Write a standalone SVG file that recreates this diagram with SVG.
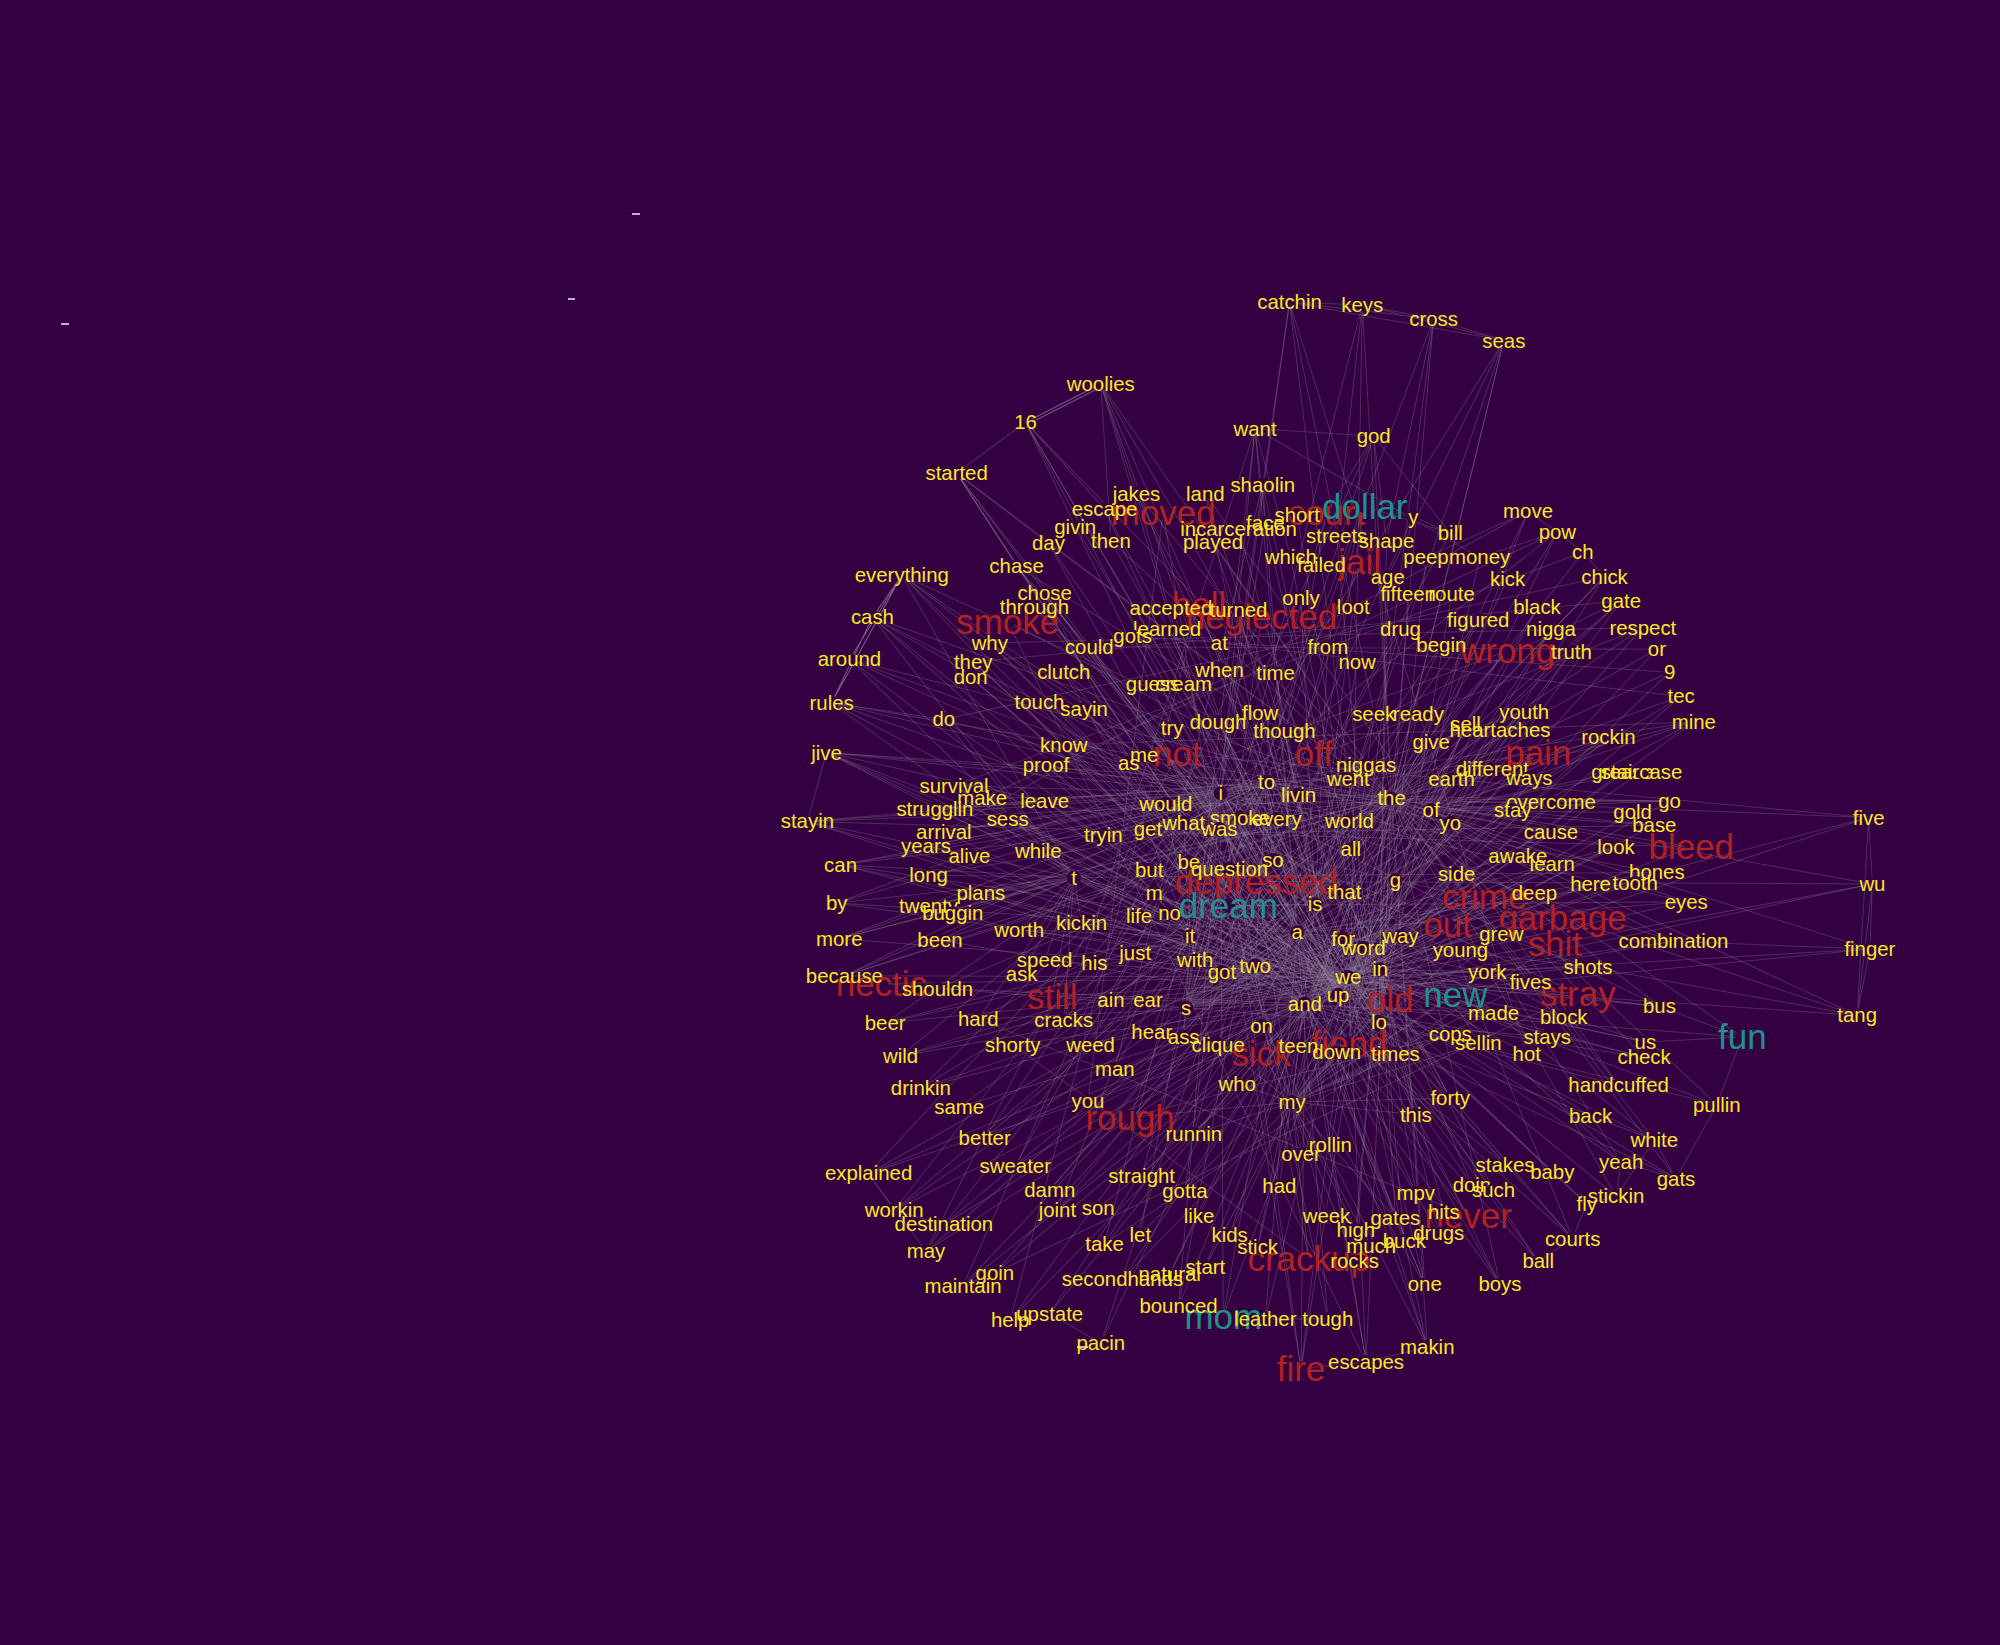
<svg xmlns="http://www.w3.org/2000/svg" width="2000" height="1645" viewBox="0 0 2000 1645">
<style>
.bg{fill:#340042}
#edges path{fill:none;stroke:#a09aa8;stroke-opacity:.27;stroke-width:.8;stroke-linejoin:round}
#edges path.hi{stroke:#c8c2cc;stroke-opacity:.45}
circle{fill:#340042}
text{font-family:"Liberation Sans",Arial,sans-serif;font-size:16px;fill:#fde725;text-anchor:middle;dominant-baseline:central}
text.r{fill:#b22222;font-size:27.4px}
text.q{fill:#21918c;font-size:27.4px}
.mk line{stroke:#ffffff;stroke-width:1.4}
</style>
<rect class="bg" x="0" y="0" width="2000" height="1645"/>
<g class="mk">
<line x1="61" y1="324" x2="69" y2="324"/>
<line x1="568" y1="299" x2="575" y2="299"/>
<line x1="632" y1="214" x2="640" y2="214"/>
<line x1="1077" y1="1347" x2="1088" y2="1347"/>
</g>
<g transform="scale(1.2755)">
<g id="edges">
<path d="M957 622L1011 237 957 622 984 336 957 622 863 301 957 622 891 387 957 622 707 451 957 622 684 484 957 622 666 517 957 622 652 551 957 622 740 564 957 622 648 590 957 622 633 644 957 622 797 444 957 622 811 476 957 622 776 504 957 622 834 527 957 622 834 584 957 622 820 600 957 622 748 616 957 622 770 626 957 622 733 634 957 622 740 652 957 622 726 663 957 622 659 678 957 622 656 708 957 622 658 736 957 622 662 765 957 622 694 802 957 622 706 828 957 622 722 853 957 622 681 920 957 622 701 949 957 622 772 892 957 622 796 914 957 622 829 949 957 622 866 975 957 622 894 968 957 622 924 1024 957 622 959 1032 957 622 1020 1073 957 622 1026 987 957 622 1151 953 957 622 1117 1007 957 622 1297 894 957 622 1271 911 957 622 1301 789 957 622 1312 738 957 622 1322 707 957 622 1299 684 957 622 1309 628 957 622 1328 566 957 622 1288 492 957 622 1271 471 957 622 1221 417 957 622 1179 267 957 622 1091 626 957 622 1017 731 957 622 1023 787 957 622 1049 780 957 622 1057 766 957 622 1041 1034"/>
<path d="M1091 626L1011 237 1091 626 1068 239 1091 626 1124 250 1091 626 1179 267 1091 626 1077 342 1091 626 1198 401 1091 626 1221 417 1091 626 1241 433 1091 626 1258 452 1091 626 1271 471 1091 626 1288 492 1091 626 1299 509 1091 626 1309 527 1091 626 1318 546 1091 626 1328 566 1091 626 1261 578 1091 626 1309 628 1091 626 1297 647 1091 626 1326 664 1091 626 1465 641 1091 626 1468 693 1091 626 1466 744 1091 626 1456 796 1091 626 1322 707 1091 626 1312 738 1091 626 1301 789 1091 626 1366 813 1091 626 1289 829 1091 626 1269 851 1091 626 1346 866 1091 626 1297 894 1091 626 1314 924 1091 626 1271 911 1091 626 1267 938 1091 626 1233 971 1091 626 1176 1007 1091 626 1119 1056 1091 626 1071 1068 1091 626 1020 1073 1091 626 1062 989 1091 626 1075 977 1091 626 1117 1007 1091 626 1063 964 1091 626 1043 898 1091 626 945 993 1091 626 917 999 1091 626 866 975 1091 626 829 949 1091 626 823 933 1091 626 772 892 1091 626 752 868 1091 626 722 853 1091 626 735 775 1091 626 662 765 1091 626 767 799 1091 626 834 800 1091 626 658 736 1091 626 737 737 1091 626 769 700 1091 626 728 710 1091 626 728 686 1091 626 659 678 1091 626 633 644 1091 626 648 590 1091 626 652 551 1091 626 684 484 1091 626 666 517 1091 626 707 451 1091 626 797 444 1091 626 822 426 1091 626 750 371 1091 626 804 331 1091 626 863 301 1091 626 891 387 1091 626 871 424 1091 626 951 425"/>
<path d="M1017 731L863 301 1017 731 804 331 1017 731 750 371 1017 731 984 336 1017 731 990 380 1017 731 945 387 1017 731 866 399 1017 731 819 465 1017 731 888 499 1017 731 854 507 1017 731 850 556 1017 731 815 550 1017 731 1318 546 1017 731 1328 566 1017 731 1261 578 1017 731 1195 558 1017 731 1267 664 1017 731 1299 684 1017 731 1282 692 1017 731 1322 707 1017 731 1200 770 1017 731 1245 758 1017 731 1213 813 1017 731 1290 817 1017 731 1197 826 1017 731 1247 875 1017 731 1217 919 1017 731 1180 913 1017 731 1154 929 1017 731 1171 933 1017 731 1110 935 1017 731 1094 955 1017 731 1176 1007 1017 731 1206 989 1017 731 1233 971 1017 731 1119 1056 1017 731 1071 1068 1017 731 1041 1034 1017 731 992 1034 1017 731 792 1035 1017 731 863 1053 1017 731 823 1030 1017 731 755 1008 1017 731 780 998 1017 731 726 981 1017 731 740 960 1017 731 701 949 1017 731 681 920 1017 731 706 828 1017 731 694 802 1017 731 656 708 1017 731 659 678 1017 731 648 590"/>
<path d="M1023 787L750 371 1023 787 822 426 1023 787 843 413 1023 787 797 444 1023 787 707 451 1023 787 684 484 1023 787 666 517 1023 787 748 616 1023 787 790 642 1023 787 740 652 1023 787 760 671 1023 787 814 667 1023 787 728 686 1023 787 769 700 1023 787 747 716 1023 787 737 737 1023 787 735 775 1023 787 767 799 1023 787 794 819 1023 787 855 819 1023 787 874 838 1023 787 853 863 1023 787 752 868 1023 787 772 892 1023 787 796 914 1023 787 895 922 1023 787 936 889 1023 787 929 934 1023 787 1003 930 1023 787 940 953 1023 787 964 968 1023 787 986 978 1023 787 917 999 1023 787 880 1003 1023 787 924 1024 1023 787 1020 1073 1023 787 1071 1068 1023 787 1119 1056 1023 787 1117 1007 1023 787 1128 967 1023 787 1101 973 1023 787 1151 953 1023 787 1180 913 1023 787 1297 894 1023 787 1314 924 1023 787 1346 866 1023 787 1269 851 1023 787 1289 829 1023 787 1366 813 1023 787 1312 738 1023 787 1466 744 1023 787 1468 693 1023 787 1465 641 1023 787 1309 628 1023 787 1297 647 1023 787 1280 637 1023 787 1287 605 1023 787 1272 605 1023 787 1261 578 1023 787 1328 566 1023 787 1216 493 1023 787 1232 511 1023 787 1288 492 1023 787 1182 454 1023 787 1205 476 1023 787 1159 486"/>
<path d="M1057 766L1179 267 1057 766 1124 250 1057 766 1198 401 1057 766 1221 417 1057 766 1258 452 1057 766 1271 471 1057 766 1205 476 1057 766 1216 493 1057 766 1232 511 1057 766 1299 509 1057 766 1309 527 1057 766 1318 546 1057 766 1216 652 1057 766 1190 671 1057 766 1217 677 1057 766 1247 693 1057 766 1282 692 1057 766 1299 684 1057 766 1322 707 1057 766 1326 664 1057 766 1267 664 1057 766 1245 758 1057 766 1237 779 1057 766 1226 797 1057 766 1301 789 1057 766 1290 817 1057 766 1289 829 1057 766 1244 944 1057 766 1267 938 1057 766 1271 911 1057 766 1217 919 1057 766 1233 971 1057 766 1206 989 1057 766 1176 1007 1057 766 1117 1007 1057 766 1119 1056 1057 766 1071 1068 1057 766 1020 1073 1057 766 959 1032 1057 766 992 1034 1057 766 792 1035 1057 766 755 1008 1057 766 780 998 1057 766 726 981 1057 766 701 949 1057 766 740 960 1057 766 681 920 1057 766 722 853 1057 766 706 828 1057 766 694 802 1057 766 691 771 1057 766 662 765 1057 766 658 736 1057 766 656 708 1057 766 659 678 1057 766 633 644 1057 766 648 590 1057 766 652 551"/>
<path d="M1049 780L707 451 1049 780 684 484 1049 780 648 590 1049 780 633 644 1049 780 659 678 1049 780 733 634 1049 780 748 616 1049 780 770 626 1049 780 819 628 1049 780 834 584 1049 780 820 600 1049 780 815 550 1049 780 850 556 1049 780 834 527 1049 780 740 564 1049 780 761 531 1049 780 763 519 1049 780 776 504 1049 780 854 507 1049 780 888 499 1049 780 915 493 1049 780 918 477 1049 780 940 474 1049 780 971 478 1049 780 956 504 1049 780 956 525 1049 780 1000 528 1049 780 988 559 1049 780 919 571 1049 780 955 566 1049 780 1007 573 1049 780 1077 560 1049 780 1112 560 1049 780 1122 582 1049 780 1149 568 1049 780 1176 572 1049 780 1195 558 1049 780 1170 603 1049 780 1138 611 1049 780 1199 610 1049 780 1216 629 1049 780 1186 635"/>
<path d="M842 688L707 451 842 688 684 484 842 688 666 517 842 688 652 551 842 688 740 564 842 688 648 590 842 688 633 644 842 688 659 678 842 688 656 708 842 688 658 736 842 688 662 765 842 688 728 686 842 688 726 663 842 688 728 710 842 688 747 716 842 688 769 700 842 688 737 737 842 688 799 729 842 688 848 724 842 688 819 753 842 688 801 764 842 688 825 781 842 688 767 799 842 688 834 800 842 688 1091 626 842 688 1017 731 842 688 1023 787 842 688 1057 766 842 688 1049 780 842 688 1081 801 842 688 993 613"/>
<path d="M1081 801L863 301 1081 801 804 331 1081 801 750 371 1081 801 797 444 1081 801 819 465 1081 801 811 476 1081 801 776 504 1081 801 763 519 1081 801 761 531 1081 801 822 426 1081 801 843 413 1081 801 871 424 1081 801 866 399 1081 801 891 387 1081 801 945 387 1081 801 990 380 1081 801 992 410 1081 801 1017 404 1081 801 971 415 1081 801 951 425 1081 801 1048 420 1081 801 1087 424 1081 801 1012 437 1081 801 1036 443 1081 801 1088 452 1081 801 1118 437 1081 801 1160 437 1081 801 1138 466 1081 801 1104 466"/>
<path d="M930 790L1011 237 930 790 1068 239 930 790 984 336 930 790 1077 342 930 790 990 380 930 790 992 410 930 790 1070 397 930 790 1108 405 930 790 1137 418 930 790 1098 493 930 790 1130 506 930 790 1159 486 930 790 1182 510 930 790 1232 511 930 790 1271 471 930 790 1258 452 930 790 1195 558 930 790 1149 568 930 790 1206 590 930 790 1186 635 930 790 1216 652 930 790 1190 671 930 790 1217 677 930 790 1267 664 930 790 1247 693 930 790 1203 700 930 790 1225 719 930 790 1219 740 930 790 1312 738 930 790 1245 758"/>
<path d="M993 613L633 644 993 613 648 590 993 613 733 634 993 613 740 652 993 613 726 663 993 613 760 671 993 613 814 667 993 613 865 655 993 613 900 650 993 613 914 630 993 613 928 645 993 613 956 650 993 613 972 641 993 613 1001 642 993 613 1018 623 993 613 1057 611 993 613 1071 600 993 613 1058 644 993 613 1122 635 993 613 1137 645 993 613 1091 626 993 613 1059 666 993 613 964 681 993 613 932 676 993 613 998 674 993 613 901 682 993 613 905 700 993 613 917 716 993 613 893 718 993 613 933 734 993 613 937 753 993 613 958 762 993 613 984 757"/>
<path d="M1013 864L963 710 1013 864 985 691 1013 864 1054 699 1013 864 1031 709 1013 864 1094 690 1013 864 1142 685 1013 864 1164 703 1013 864 1135 725 1013 864 1177 732 1013 864 1145 745 1013 864 1069 743 1013 864 1098 734 1013 864 1053 736 1013 864 1082 760 1013 864 1166 762 1013 864 1200 770 1013 864 1171 794 1013 864 1141 780 1013 864 1090 784 1013 864 1137 811 1013 864 1159 818 1013 864 1094 826 1013 864 1048 825 1013 864 1018 820 1013 864 955 819 1013 864 989 826 1013 864 1058 818 1013 864 989 804 1013 864 970 850 1013 864 1110 874 1013 864 1137 861 1013 864 886 876 1013 864 936 889 1013 864 1020 905 1013 864 1043 898 1013 864 1040 953 1013 864 1063 964 1013 864 1094 955 1013 864 1075 977 1013 864 1062 989 1013 864 1026 987 1013 864 986 978 1013 864 964 968 1013 864 945 993"/>
<path d="M933 734L893 718 933 734 917 716 933 734 890 747 933 734 858 755 933 734 937 753 933 734 958 762 933 734 819 753 933 734 848 724 933 734 799 729 933 734 874 838 933 734 855 819 933 734 900 784 933 734 871 784 933 734 903 809 933 734 928 813 933 734 930 790 933 734 905 700 933 734 901 682 933 734 932 676 933 734 964 681 933 734 865 655 933 734 900 650 933 734 928 645 933 734 956 650 933 734 914 630"/>
<path d="M1082 760L1094 690 1082 760 1054 699 1082 760 1142 685 1082 760 1098 734 1082 760 1069 743 1082 760 1053 736 1082 760 1145 745 1082 760 1177 732 1082 760 1166 762 1082 760 1171 794 1082 760 1200 770 1082 760 1094 826 1082 760 1081 801 1082 760 1137 811 1082 760 1137 861 1082 760 1110 874 1082 760 1110 935 1082 760 1132 950 1082 760 1094 955 1082 760 1128 967 1082 760 1101 973 1082 760 1154 929 1082 760 1171 933"/>
<path d="M1031 709L985 691 1031 709 963 710 1031 709 964 681 1031 709 998 674 1031 709 1059 666 1031 709 1054 699 1031 709 1058 644 1031 709 1122 635 1031 709 1137 645 1031 709 1138 611 1031 709 1057 611 1031 709 1071 600 1031 709 1018 623 1031 709 1122 582 1031 709 1077 560 1031 709 1112 560 1031 709 988 559 1031 709 1007 573 1031 709 955 566 1031 709 919 571 1031 709 1000 528 1031 709 1064 519 1031 709 1041 507 1031 709 1098 493 1031 709 1130 506 1031 709 1061 476 1031 709 1020 469"/>
<path d="M1122 635L1170 603 1122 635 1199 610 1122 635 1138 611 1122 635 1216 629 1122 635 1186 635 1122 635 1216 652 1122 635 1190 671 1122 635 1217 677 1122 635 1280 637 1122 635 1297 647 1122 635 1309 628 1122 635 1272 605 1122 635 1287 605 1122 635 1267 664 1122 635 1176 572 1122 635 1149 568 1122 635 1195 558 1122 635 1261 578 1122 635 1328 566"/>
<path d="M633 644L1326 664M648 590L1225 719M652 551L1245 758M666 517L1237 779M684 484L1226 797M707 451L1141 780M659 678L1206 590M656 708L1182 510M658 736L1195 558M662 765L1261 578M694 802L1190 671M706 828L1203 700M722 853L1164 703M681 920L1090 784M701 949L1149 568M740 960L1030 591M726 981L923 591M755 1008L989 483M792 1035L940 474M863 1053L1066 440M924 1024L1040 402M959 1032L1070 397M1020 1073L912 402M1071 1068L790 487M1119 1056L819 465M1117 1007L834 527M1176 1007L850 556M1206 989L834 584M1233 971L820 600M1314 924L819 628M1297 894L790 642M1346 866L814 667M1289 829L769 700M1290 817L848 724M1301 789L799 729M1456 796L819 753M1466 744L825 781M1468 693L985 691M1465 641L923 591M1322 707L963 710M1299 684L842 688M1297 647L865 655M1309 628L914 630M1328 566L834 584M1318 546L956 504M1309 527L888 499M1299 509L854 507M1288 492L776 504M1271 471L763 519M1258 452L740 564M1241 433L748 616M1221 417L770 626M1198 401L740 652M1179 267L989 826M1124 250L886 876M1068 239L1058 818M1011 237L1197 826M1077 342L855 819M984 336L834 800M863 301L1159 818M804 331L1094 826M750 371L1048 825M891 387L1137 861M945 387L1269 851M990 380L874 838M912 402L853 863M1070 397L936 889M1040 402L895 922M691 771L1213 813M825 781L1171 794M886 876L1137 811M1151 953L767 799M1026 987L794 819M790 487L1225 719M989 483L929 934M1182 510L823 933M1206 590L829 949M1164 703L861 947M1135 725L894 968M1219 740L866 975M1237 779L780 998M989 826L823 1030M1058 818L880 1003"/>
<path d="M1011 237L1068 239M1011 237L1124 250M1011 237L1179 267M1068 239L1124 250M1068 239L1179 267M1124 250L1179 267M1011 237L1036 443M1068 239L1048 420M1124 250L1087 424M1179 267L1088 452M984 336L1077 342M984 336L1160 437M984 336L992 410M984 336L1012 437M1077 342L1040 402M1077 342L1087 424M1077 342L1137 418M1070 397L1137 418M1108 405L1137 418M1198 401L1221 417M1198 401L1118 437M1221 417L1160 437M1221 417L1241 433M1241 433L1258 452M863 301L891 387M863 301L871 424M804 331L750 371M804 331L866 399M804 331L843 413M750 371L822 426M750 371L797 444M652 551L740 564M648 590L633 644M1465 641L1468 693M1468 693L1466 744M1466 744L1456 796M1465 641L1456 796M1468 693L1456 796M1465 641L1299 684M1468 693L1219 740M1466 744L1312 738M1456 796L1225 719M1456 796L1245 758M1301 789L1366 813M1366 813L1346 866M1366 813L1290 817M1314 924L1297 894M1314 924L1271 911M1314 924L1346 866M1244 944L1267 938M1244 944L1233 971M1267 938L1271 911M1267 938L1297 894M1233 971L1206 989M1217 919L1244 944M992 1034L1041 1034M1071 1068L1119 1056M1020 1073L1071 1068M792 1035L823 1030M863 1053L823 1030M755 1008L780 998M681 920L701 949M701 949L740 960M726 981L740 960M681 920L726 981"/>
<path class="hi" d="M863 301L804 331M864 303L805 333M707 451L652 551M706 453L651 553M707 451L666 517M684 484L652 551M707 451L684 484"/>
</g>
<g id="nodes">
<g id="n-moved"><circle cx="912" cy="402" r="5.5"/><text class="r" x="912" y="402">moved</text></g>
<g id="n-court"><circle cx="1040" cy="402" r="5.5"/><text class="r" x="1040" y="402">court</text></g>
<g id="n-dollar"><circle cx="1070" cy="397" r="5.5"/><text class="q" x="1070" y="397">dollar</text></g>
<g id="n-jail"><circle cx="1066" cy="440" r="5.5"/><text class="r" x="1066" y="440">jail</text></g>
<g id="n-hell"><circle cx="940" cy="474" r="5.5"/><text class="r" x="940" y="474">hell</text></g>
<g id="n-smoke"><circle cx="790" cy="487" r="5.5"/><text class="r" x="790" y="487">smoke</text></g>
<g id="n-neglected"><circle cx="989" cy="483" r="5.5"/><text class="r" x="989" y="483">neglected</text></g>
<g id="n-wrong"><circle cx="1182" cy="510" r="5.5"/><text class="r" x="1182" y="510">wrong</text></g>
<g id="n-not"><circle cx="923" cy="591" r="5.5"/><text class="r" x="923" y="591">not</text></g>
<g id="n-off"><circle cx="1030" cy="591" r="5.5"/><text class="r" x="1030" y="591">off</text></g>
<g id="n-pain"><circle cx="1206" cy="590" r="5.5"/><text class="r" x="1206" y="590">pain</text></g>
<g id="n-bleed"><circle cx="1326" cy="664" r="5.5"/><text class="r" x="1326" y="664">bleed</text></g>
<g id="n-depressed"><circle cx="985" cy="691" r="5.5"/><text class="r" x="985" y="691">depressed</text></g>
<g id="n-dream"><circle cx="963" cy="710" r="5.5"/><text class="q" x="963" y="710">dream</text></g>
<g id="n-crime"><circle cx="1164" cy="703" r="5.5"/><text class="r" x="1164" y="703">crime</text></g>
<g id="n-garbage"><circle cx="1225" cy="719" r="5.5"/><text class="r" x="1225" y="719">garbage</text></g>
<g id="n-out"><circle cx="1135" cy="725" r="5.5"/><text class="r" x="1135" y="725">out</text></g>
<g id="n-shit"><circle cx="1219" cy="740" r="5.5"/><text class="r" x="1219" y="740">shit</text></g>
<g id="n-hectic"><circle cx="691" cy="771" r="5.5"/><text class="r" x="691" y="771">hectic</text></g>
<g id="n-still"><circle cx="825" cy="781" r="5.5"/><text class="r" x="825" y="781">still</text></g>
<g id="n-old"><circle cx="1090" cy="784" r="5.5"/><text class="r" x="1090" y="784">old</text></g>
<g id="n-new"><circle cx="1141" cy="780" r="5.5"/><text class="q" x="1141" y="780">new</text></g>
<g id="n-stray"><circle cx="1237" cy="779" r="5.5"/><text class="r" x="1237" y="779">stray</text></g>
<g id="n-fun"><circle cx="1366" cy="813" r="5.5"/><text class="q" x="1366" y="813">fun</text></g>
<g id="n-sick"><circle cx="989" cy="826" r="5.5"/><text class="r" x="989" y="826">sick</text></g>
<g id="n-fiend"><circle cx="1058" cy="818" r="5.5"/><text class="r" x="1058" y="818">fiend</text></g>
<g id="n-rough"><circle cx="886" cy="876" r="5.5"/><text class="r" x="886" y="876">rough</text></g>
<g id="n-never"><circle cx="1151" cy="953" r="5.5"/><text class="r" x="1151" y="953">never</text></g>
<g id="n-crackup"><circle cx="1026" cy="987" r="5.5"/><text class="r" x="1026" y="987">crackup</text></g>
<g id="n-mom"><circle cx="959" cy="1032" r="5.5"/><text class="q" x="959" y="1032">mom</text></g>
<g id="n-fire"><circle cx="1020" cy="1073" r="5.5"/><text class="r" x="1020" y="1073">fire</text></g>
<g id="n-catchin"><circle cx="1011" cy="237" r="5.5"/><text x="1011" y="237">catchin</text></g>
<g id="n-keys"><circle cx="1068" cy="239" r="5.5"/><text x="1068" y="239">keys</text></g>
<g id="n-cross"><circle cx="1124" cy="250" r="5.5"/><text x="1124" y="250">cross</text></g>
<g id="n-seas"><circle cx="1179" cy="267" r="5.5"/><text x="1179" y="267">seas</text></g>
<g id="n-woolies"><circle cx="863" cy="301" r="5.5"/><text x="863" y="301">woolies</text></g>
<g id="n-16"><circle cx="804" cy="331" r="5.5"/><text x="804" y="331">16</text></g>
<g id="n-want"><circle cx="984" cy="336" r="5.5"/><text x="984" y="336">want</text></g>
<g id="n-god"><circle cx="1077" cy="342" r="5.5"/><text x="1077" y="342">god</text></g>
<g id="n-started"><circle cx="750" cy="371" r="5.5"/><text x="750" y="371">started</text></g>
<g id="n-jakes"><circle cx="891" cy="387" r="5.5"/><text x="891" y="387">jakes</text></g>
<g id="n-land"><circle cx="945" cy="387" r="5.5"/><text x="945" y="387">land</text></g>
<g id="n-shaolin"><circle cx="990" cy="380" r="5.5"/><text x="990" y="380">shaolin</text></g>
<g id="n-escape"><circle cx="866" cy="399" r="5.5"/><text x="866" y="399">escape</text></g>
<g id="n-y"><circle cx="1108" cy="405" r="5.5"/><text x="1108" y="405">y</text></g>
<g id="n-move"><circle cx="1198" cy="401" r="5.5"/><text x="1198" y="401">move</text></g>
<g id="n-givin"><circle cx="843" cy="413" r="5.5"/><text x="843" y="413">givin</text></g>
<g id="n-face"><circle cx="992" cy="410" r="5.5"/><text x="992" y="410">face</text></g>
<g id="n-short"><circle cx="1017" cy="404" r="5.5"/><text x="1017" y="404">short</text></g>
<g id="n-incarceration"><circle cx="971" cy="415" r="5.5"/><text x="971" y="415">incarceration</text></g>
<g id="n-day"><circle cx="822" cy="426" r="5.5"/><text x="822" y="426">day</text></g>
<g id="n-then"><circle cx="871" cy="424" r="5.5"/><text x="871" y="424">then</text></g>
<g id="n-played"><circle cx="951" cy="425" r="5.5"/><text x="951" y="425">played</text></g>
<g id="n-streets"><circle cx="1048" cy="420" r="5.5"/><text x="1048" y="420">streets</text></g>
<g id="n-shape"><circle cx="1087" cy="424" r="5.5"/><text x="1087" y="424">shape</text></g>
<g id="n-bill"><circle cx="1137" cy="418" r="5.5"/><text x="1137" y="418">bill</text></g>
<g id="n-pow"><circle cx="1221" cy="417" r="5.5"/><text x="1221" y="417">pow</text></g>
<g id="n-ch"><circle cx="1241" cy="433" r="5.5"/><text x="1241" y="433">ch</text></g>
<g id="n-chase"><circle cx="797" cy="444" r="5.5"/><text x="797" y="444">chase</text></g>
<g id="n-which"><circle cx="1012" cy="437" r="5.5"/><text x="1012" y="437">which</text></g>
<g id="n-failed"><circle cx="1036" cy="443" r="5.5"/><text x="1036" y="443">failed</text></g>
<g id="n-age"><circle cx="1088" cy="452" r="5.5"/><text x="1088" y="452">age</text></g>
<g id="n-peep"><circle cx="1118" cy="437" r="5.5"/><text x="1118" y="437">peep</text></g>
<g id="n-money"><circle cx="1160" cy="437" r="5.5"/><text x="1160" y="437">money</text></g>
<g id="n-chick"><circle cx="1258" cy="452" r="5.5"/><text x="1258" y="452">chick</text></g>
<g id="n-everything"><circle cx="707" cy="451" r="5.5"/><text x="707" y="451">everything</text></g>
<g id="n-chose"><circle cx="819" cy="465" r="5.5"/><text x="819" y="465">chose</text></g>
<g id="n-through"><circle cx="811" cy="476" r="5.5"/><text x="811" y="476">through</text></g>
<g id="n-accepted"><circle cx="918" cy="477" r="5.5"/><text x="918" y="477">accepted</text></g>
<g id="n-turned"><circle cx="971" cy="478" r="5.5"/><text x="971" y="478">turned</text></g>
<g id="n-only"><circle cx="1020" cy="469" r="5.5"/><text x="1020" y="469">only</text></g>
<g id="n-loot"><circle cx="1061" cy="476" r="5.5"/><text x="1061" y="476">loot</text></g>
<g id="n-fifteen"><circle cx="1104" cy="466" r="5.5"/><text x="1104" y="466">fifteen</text></g>
<g id="n-route"><circle cx="1138" cy="466" r="5.5"/><text x="1138" y="466">route</text></g>
<g id="n-kick"><circle cx="1182" cy="454" r="5.5"/><text x="1182" y="454">kick</text></g>
<g id="n-black"><circle cx="1205" cy="476" r="5.5"/><text x="1205" y="476">black</text></g>
<g id="n-gate"><circle cx="1271" cy="471" r="5.5"/><text x="1271" y="471">gate</text></g>
<g id="n-cash"><circle cx="684" cy="484" r="5.5"/><text x="684" y="484">cash</text></g>
<g id="n-learned"><circle cx="915" cy="493" r="5.5"/><text x="915" y="493">learned</text></g>
<g id="n-gots"><circle cx="888" cy="499" r="5.5"/><text x="888" y="499">gots</text></g>
<g id="n-drug"><circle cx="1098" cy="493" r="5.5"/><text x="1098" y="493">drug</text></g>
<g id="n-figured"><circle cx="1159" cy="486" r="5.5"/><text x="1159" y="486">figured</text></g>
<g id="n-nigga"><circle cx="1216" cy="493" r="5.5"/><text x="1216" y="493">nigga</text></g>
<g id="n-respect"><circle cx="1288" cy="492" r="5.5"/><text x="1288" y="492">respect</text></g>
<g id="n-why"><circle cx="776" cy="504" r="5.5"/><text x="776" y="504">why</text></g>
<g id="n-could"><circle cx="854" cy="507" r="5.5"/><text x="854" y="507">could</text></g>
<g id="n-at"><circle cx="956" cy="504" r="5.5"/><text x="956" y="504">at</text></g>
<g id="n-from"><circle cx="1041" cy="507" r="5.5"/><text x="1041" y="507">from</text></g>
<g id="n-begin"><circle cx="1130" cy="506" r="5.5"/><text x="1130" y="506">begin</text></g>
<g id="n-truth"><circle cx="1232" cy="511" r="5.5"/><text x="1232" y="511">truth</text></g>
<g id="n-or"><circle cx="1299" cy="509" r="5.5"/><text x="1299" y="509">or</text></g>
<g id="n-around"><circle cx="666" cy="517" r="5.5"/><text x="666" y="517">around</text></g>
<g id="n-they"><circle cx="763" cy="519" r="5.5"/><text x="763" y="519">they</text></g>
<g id="n-don"><circle cx="761" cy="531" r="5.5"/><text x="761" y="531">don</text></g>
<g id="n-clutch"><circle cx="834" cy="527" r="5.5"/><text x="834" y="527">clutch</text></g>
<g id="n-when"><circle cx="956" cy="525" r="5.5"/><text x="956" y="525">when</text></g>
<g id="n-time"><circle cx="1000" cy="528" r="5.5"/><text x="1000" y="528">time</text></g>
<g id="n-now"><circle cx="1064" cy="519" r="5.5"/><text x="1064" y="519">now</text></g>
<g id="n-9"><circle cx="1309" cy="527" r="5.5"/><text x="1309" y="527">9</text></g>
<g id="n-guess"><circle cx="904" cy="536" r="5.5"/><text x="904" y="536">guess</text></g>
<g id="n-cream"><circle cx="928" cy="536" r="5.5"/><text x="928" y="536">cream</text></g>
<g id="n-rules"><circle cx="652" cy="551" r="5.5"/><text x="652" y="551">rules</text></g>
<g id="n-touch"><circle cx="815" cy="550" r="5.5"/><text x="815" y="550">touch</text></g>
<g id="n-sayin"><circle cx="850" cy="556" r="5.5"/><text x="850" y="556">sayin</text></g>
<g id="n-tec"><circle cx="1318" cy="546" r="5.5"/><text x="1318" y="546">tec</text></g>
<g id="n-flow"><circle cx="988" cy="559" r="5.5"/><text x="988" y="559">flow</text></g>
<g id="n-seek"><circle cx="1077" cy="560" r="5.5"/><text x="1077" y="560">seek</text></g>
<g id="n-ready"><circle cx="1112" cy="560" r="5.5"/><text x="1112" y="560">ready</text></g>
<g id="n-youth"><circle cx="1195" cy="558" r="5.5"/><text x="1195" y="558">youth</text></g>
<g id="n-do"><circle cx="740" cy="564" r="5.5"/><text x="740" y="564">do</text></g>
<g id="n-try"><circle cx="919" cy="571" r="5.5"/><text x="919" y="571">try</text></g>
<g id="n-dough"><circle cx="955" cy="566" r="5.5"/><text x="955" y="566">dough</text></g>
<g id="n-though"><circle cx="1007" cy="573" r="5.5"/><text x="1007" y="573">though</text></g>
<g id="n-sell"><circle cx="1149" cy="568" r="5.5"/><text x="1149" y="568">sell</text></g>
<g id="n-heartaches"><circle cx="1176" cy="572" r="5.5"/><text x="1176" y="572">heartaches</text></g>
<g id="n-mine"><circle cx="1328" cy="566" r="5.5"/><text x="1328" y="566">mine</text></g>
<g id="n-rockin"><circle cx="1261" cy="578" r="5.5"/><text x="1261" y="578">rockin</text></g>
<g id="n-jive"><circle cx="648" cy="590" r="5.5"/><text x="648" y="590">jive</text></g>
<g id="n-know"><circle cx="834" cy="584" r="5.5"/><text x="834" y="584">know</text></g>
<g id="n-give"><circle cx="1122" cy="582" r="5.5"/><text x="1122" y="582">give</text></g>
<g id="n-as"><circle cx="885" cy="598" r="5.5"/><text x="885" y="598">as</text></g>
<g id="n-me"><circle cx="897" cy="592" r="5.5"/><text x="897" y="592">me</text></g>
<g id="n-proof"><circle cx="820" cy="600" r="5.5"/><text x="820" y="600">proof</text></g>
<g id="n-niggas"><circle cx="1071" cy="600" r="5.5"/><text x="1071" y="600">niggas</text></g>
<g id="n-survival"><circle cx="748" cy="616" r="5.5"/><text x="748" y="616">survival</text></g>
<g id="n-i"><circle cx="957" cy="622" r="5.5"/><text x="957" y="622">i</text></g>
<g id="n-to"><circle cx="993" cy="613" r="5.5"/><text x="993" y="613">to</text></g>
<g id="n-went"><circle cx="1057" cy="611" r="5.5"/><text x="1057" y="611">went</text></g>
<g id="n-earth"><circle cx="1138" cy="611" r="5.5"/><text x="1138" y="611">earth</text></g>
<g id="n-different"><circle cx="1170" cy="603" r="5.5"/><text x="1170" y="603">different</text></g>
<g id="n-ways"><circle cx="1199" cy="610" r="5.5"/><text x="1199" y="610">ways</text></g>
<g id="n-grease"><circle cx="1272" cy="605" r="5.5"/><text x="1272" y="605">grease</text></g>
<g id="n-staircase"><circle cx="1287" cy="605" r="5.5"/><text x="1287" y="605">staircase</text></g>
<g id="n-make"><circle cx="770" cy="626" r="5.5"/><text x="770" y="626">make</text></g>
<g id="n-leave"><circle cx="819" cy="628" r="5.5"/><text x="819" y="628">leave</text></g>
<g id="n-would"><circle cx="914" cy="630" r="5.5"/><text x="914" y="630">would</text></g>
<g id="n-livin"><circle cx="1018" cy="623" r="5.5"/><text x="1018" y="623">livin</text></g>
<g id="n-the"><circle cx="1091" cy="626" r="5.5"/><text x="1091" y="626">the</text></g>
<g id="n-overcome"><circle cx="1216" cy="629" r="5.5"/><text x="1216" y="629">overcome</text></g>
<g id="n-go"><circle cx="1309" cy="628" r="5.5"/><text x="1309" y="628">go</text></g>
<g id="n-strugglin"><circle cx="733" cy="634" r="5.5"/><text x="733" y="634">strugglin</text></g>
<g id="n-stayin"><circle cx="633" cy="644" r="5.5"/><text x="633" y="644">stayin</text></g>
<g id="n-sess"><circle cx="790" cy="642" r="5.5"/><text x="790" y="642">sess</text></g>
<g id="n-smoke2"><circle cx="972" cy="641" r="5.5"/><text x="972" y="641">smoke</text></g>
<g id="n-every"><circle cx="1001" cy="642" r="5.5"/><text x="1001" y="642">every</text></g>
<g id="n-gold"><circle cx="1280" cy="637" r="5.5"/><text x="1280" y="637">gold</text></g>
<g id="n-what"><circle cx="928" cy="645" r="5.5"/><text x="928" y="645">what</text></g>
<g id="n-was"><circle cx="956" cy="650" r="5.5"/><text x="956" y="650">was</text></g>
<g id="n-world"><circle cx="1058" cy="644" r="5.5"/><text x="1058" y="644">world</text></g>
<g id="n-of"><circle cx="1122" cy="635" r="5.5"/><text x="1122" y="635">of</text></g>
<g id="n-yo"><circle cx="1137" cy="645" r="5.5"/><text x="1137" y="645">yo</text></g>
<g id="n-stay"><circle cx="1186" cy="635" r="5.5"/><text x="1186" y="635">stay</text></g>
<g id="n-arrival"><circle cx="740" cy="652" r="5.5"/><text x="740" y="652">arrival</text></g>
<g id="n-get"><circle cx="900" cy="650" r="5.5"/><text x="900" y="650">get</text></g>
<g id="n-tryin"><circle cx="865" cy="655" r="5.5"/><text x="865" y="655">tryin</text></g>
<g id="n-cause"><circle cx="1216" cy="652" r="5.5"/><text x="1216" y="652">cause</text></g>
<g id="n-base"><circle cx="1297" cy="647" r="5.5"/><text x="1297" y="647">base</text></g>
<g id="n-years"><circle cx="726" cy="663" r="5.5"/><text x="726" y="663">years</text></g>
<g id="n-alive"><circle cx="760" cy="671" r="5.5"/><text x="760" y="671">alive</text></g>
<g id="n-while"><circle cx="814" cy="667" r="5.5"/><text x="814" y="667">while</text></g>
<g id="n-all"><circle cx="1059" cy="666" r="5.5"/><text x="1059" y="666">all</text></g>
<g id="n-awake"><circle cx="1190" cy="671" r="5.5"/><text x="1190" y="671">awake</text></g>
<g id="n-learn"><circle cx="1217" cy="677" r="5.5"/><text x="1217" y="677">learn</text></g>
<g id="n-look"><circle cx="1267" cy="664" r="5.5"/><text x="1267" y="664">look</text></g>
<g id="n-five"><circle cx="1465" cy="641" r="5.5"/><text x="1465" y="641">five</text></g>
<g id="n-can"><circle cx="659" cy="678" r="5.5"/><text x="659" y="678">can</text></g>
<g id="n-long"><circle cx="728" cy="686" r="5.5"/><text x="728" y="686">long</text></g>
<g id="n-t"><circle cx="842" cy="688" r="5.5"/><text x="842" y="688">t</text></g>
<g id="n-but"><circle cx="901" cy="682" r="5.5"/><text x="901" y="682">but</text></g>
<g id="n-be"><circle cx="932" cy="676" r="5.5"/><text x="932" y="676">be</text></g>
<g id="n-question"><circle cx="964" cy="681" r="5.5"/><text x="964" y="681">question</text></g>
<g id="n-so"><circle cx="998" cy="674" r="5.5"/><text x="998" y="674">so</text></g>
<g id="n-g"><circle cx="1094" cy="690" r="5.5"/><text x="1094" y="690">g</text></g>
<g id="n-side"><circle cx="1142" cy="685" r="5.5"/><text x="1142" y="685">side</text></g>
<g id="n-bones"><circle cx="1299" cy="684" r="5.5"/><text x="1299" y="684">bones</text></g>
<g id="n-here"><circle cx="1247" cy="693" r="5.5"/><text x="1247" y="693">here</text></g>
<g id="n-tooth"><circle cx="1282" cy="692" r="5.5"/><text x="1282" y="692">tooth</text></g>
<g id="n-wu"><circle cx="1468" cy="693" r="5.5"/><text x="1468" y="693">wu</text></g>
<g id="n-plans"><circle cx="769" cy="700" r="5.5"/><text x="769" y="700">plans</text></g>
<g id="n-m"><circle cx="905" cy="700" r="5.5"/><text x="905" y="700">m</text></g>
<g id="n-that"><circle cx="1054" cy="699" r="5.5"/><text x="1054" y="699">that</text></g>
<g id="n-deep"><circle cx="1203" cy="700" r="5.5"/><text x="1203" y="700">deep</text></g>
<g id="n-by"><circle cx="656" cy="708" r="5.5"/><text x="656" y="708">by</text></g>
<g id="n-twenty"><circle cx="728" cy="710" r="5.5"/><text x="728" y="710">twenty</text></g>
<g id="n-buggin"><circle cx="747" cy="716" r="5.5"/><text x="747" y="716">buggin</text></g>
<g id="n-is"><circle cx="1031" cy="709" r="5.5"/><text x="1031" y="709">is</text></g>
<g id="n-eyes"><circle cx="1322" cy="707" r="5.5"/><text x="1322" y="707">eyes</text></g>
<g id="n-life"><circle cx="893" cy="718" r="5.5"/><text x="893" y="718">life</text></g>
<g id="n-no"><circle cx="917" cy="716" r="5.5"/><text x="917" y="716">no</text></g>
<g id="n-worth"><circle cx="799" cy="729" r="5.5"/><text x="799" y="729">worth</text></g>
<g id="n-kickin"><circle cx="848" cy="724" r="5.5"/><text x="848" y="724">kickin</text></g>
<g id="n-a"><circle cx="1017" cy="731" r="5.5"/><text x="1017" y="731">a</text></g>
<g id="n-it"><circle cx="933" cy="734" r="5.5"/><text x="933" y="734">it</text></g>
<g id="n-more"><circle cx="658" cy="736" r="5.5"/><text x="658" y="736">more</text></g>
<g id="n-been"><circle cx="737" cy="737" r="5.5"/><text x="737" y="737">been</text></g>
<g id="n-for"><circle cx="1053" cy="736" r="5.5"/><text x="1053" y="736">for</text></g>
<g id="n-way"><circle cx="1098" cy="734" r="5.5"/><text x="1098" y="734">way</text></g>
<g id="n-word"><circle cx="1069" cy="743" r="5.5"/><text x="1069" y="743">word</text></g>
<g id="n-grew"><circle cx="1177" cy="732" r="5.5"/><text x="1177" y="732">grew</text></g>
<g id="n-combination"><circle cx="1312" cy="738" r="5.5"/><text x="1312" y="738">combination</text></g>
<g id="n-young"><circle cx="1145" cy="745" r="5.5"/><text x="1145" y="745">young</text></g>
<g id="n-finger"><circle cx="1466" cy="744" r="5.5"/><text x="1466" y="744">finger</text></g>
<g id="n-just"><circle cx="890" cy="747" r="5.5"/><text x="890" y="747">just</text></g>
<g id="n-speed"><circle cx="819" cy="753" r="5.5"/><text x="819" y="753">speed</text></g>
<g id="n-his"><circle cx="858" cy="755" r="5.5"/><text x="858" y="755">his</text></g>
<g id="n-with"><circle cx="937" cy="753" r="5.5"/><text x="937" y="753">with</text></g>
<g id="n-two"><circle cx="984" cy="757" r="5.5"/><text x="984" y="757">two</text></g>
<g id="n-got"><circle cx="958" cy="762" r="5.5"/><text x="958" y="762">got</text></g>
<g id="n-because"><circle cx="662" cy="765" r="5.5"/><text x="662" y="765">because</text></g>
<g id="n-ask"><circle cx="801" cy="764" r="5.5"/><text x="801" y="764">ask</text></g>
<g id="n-we"><circle cx="1057" cy="766" r="5.5"/><text x="1057" y="766">we</text></g>
<g id="n-in"><circle cx="1082" cy="760" r="5.5"/><text x="1082" y="760">in</text></g>
<g id="n-york"><circle cx="1166" cy="762" r="5.5"/><text x="1166" y="762">york</text></g>
<g id="n-fives"><circle cx="1200" cy="770" r="5.5"/><text x="1200" y="770">fives</text></g>
<g id="n-shots"><circle cx="1245" cy="758" r="5.5"/><text x="1245" y="758">shots</text></g>
<g id="n-shouldn"><circle cx="735" cy="775" r="5.5"/><text x="735" y="775">shouldn</text></g>
<g id="n-ain"><circle cx="871" cy="784" r="5.5"/><text x="871" y="784">ain</text></g>
<g id="n-ear"><circle cx="900" cy="784" r="5.5"/><text x="900" y="784">ear</text></g>
<g id="n-up"><circle cx="1049" cy="780" r="5.5"/><text x="1049" y="780">up</text></g>
<g id="n-and"><circle cx="1023" cy="787" r="5.5"/><text x="1023" y="787">and</text></g>
<g id="n-s"><circle cx="930" cy="790" r="5.5"/><text x="930" y="790">s</text></g>
<g id="n-bus"><circle cx="1301" cy="789" r="5.5"/><text x="1301" y="789">bus</text></g>
<g id="n-made"><circle cx="1171" cy="794" r="5.5"/><text x="1171" y="794">made</text></g>
<g id="n-block"><circle cx="1226" cy="797" r="5.5"/><text x="1226" y="797">block</text></g>
<g id="n-tang"><circle cx="1456" cy="796" r="5.5"/><text x="1456" y="796">tang</text></g>
<g id="n-beer"><circle cx="694" cy="802" r="5.5"/><text x="694" y="802">beer</text></g>
<g id="n-hard"><circle cx="767" cy="799" r="5.5"/><text x="767" y="799">hard</text></g>
<g id="n-cracks"><circle cx="834" cy="800" r="5.5"/><text x="834" y="800">cracks</text></g>
<g id="n-on"><circle cx="989" cy="804" r="5.5"/><text x="989" y="804">on</text></g>
<g id="n-lo"><circle cx="1081" cy="801" r="5.5"/><text x="1081" y="801">lo</text></g>
<g id="n-hear"><circle cx="903" cy="809" r="5.5"/><text x="903" y="809">hear</text></g>
<g id="n-ass"><circle cx="928" cy="813" r="5.5"/><text x="928" y="813">ass</text></g>
<g id="n-cops"><circle cx="1137" cy="811" r="5.5"/><text x="1137" y="811">cops</text></g>
<g id="n-sellin"><circle cx="1159" cy="818" r="5.5"/><text x="1159" y="818">sellin</text></g>
<g id="n-stays"><circle cx="1213" cy="813" r="5.5"/><text x="1213" y="813">stays</text></g>
<g id="n-us"><circle cx="1290" cy="817" r="5.5"/><text x="1290" y="817">us</text></g>
<g id="n-shorty"><circle cx="794" cy="819" r="5.5"/><text x="794" y="819">shorty</text></g>
<g id="n-weed"><circle cx="855" cy="819" r="5.5"/><text x="855" y="819">weed</text></g>
<g id="n-clique"><circle cx="955" cy="819" r="5.5"/><text x="955" y="819">clique</text></g>
<g id="n-teen"><circle cx="1018" cy="820" r="5.5"/><text x="1018" y="820">teen</text></g>
<g id="n-down"><circle cx="1048" cy="825" r="5.5"/><text x="1048" y="825">down</text></g>
<g id="n-times"><circle cx="1094" cy="826" r="5.5"/><text x="1094" y="826">times</text></g>
<g id="n-hot"><circle cx="1197" cy="826" r="5.5"/><text x="1197" y="826">hot</text></g>
<g id="n-check"><circle cx="1289" cy="829" r="5.5"/><text x="1289" y="829">check</text></g>
<g id="n-wild"><circle cx="706" cy="828" r="5.5"/><text x="706" y="828">wild</text></g>
<g id="n-man"><circle cx="874" cy="838" r="5.5"/><text x="874" y="838">man</text></g>
<g id="n-drinkin"><circle cx="722" cy="853" r="5.5"/><text x="722" y="853">drinkin</text></g>
<g id="n-who"><circle cx="970" cy="850" r="5.5"/><text x="970" y="850">who</text></g>
<g id="n-my"><circle cx="1013" cy="864" r="5.5"/><text x="1013" y="864">my</text></g>
<g id="n-handcuffed"><circle cx="1269" cy="851" r="5.5"/><text x="1269" y="851">handcuffed</text></g>
<g id="n-you"><circle cx="853" cy="863" r="5.5"/><text x="853" y="863">you</text></g>
<g id="n-same"><circle cx="752" cy="868" r="5.5"/><text x="752" y="868">same</text></g>
<g id="n-forty"><circle cx="1137" cy="861" r="5.5"/><text x="1137" y="861">forty</text></g>
<g id="n-pullin"><circle cx="1346" cy="866" r="5.5"/><text x="1346" y="866">pullin</text></g>
<g id="n-this"><circle cx="1110" cy="874" r="5.5"/><text x="1110" y="874">this</text></g>
<g id="n-back"><circle cx="1247" cy="875" r="5.5"/><text x="1247" y="875">back</text></g>
<g id="n-runnin"><circle cx="936" cy="889" r="5.5"/><text x="936" y="889">runnin</text></g>
<g id="n-better"><circle cx="772" cy="892" r="5.5"/><text x="772" y="892">better</text></g>
<g id="n-rollin"><circle cx="1043" cy="898" r="5.5"/><text x="1043" y="898">rollin</text></g>
<g id="n-over"><circle cx="1020" cy="905" r="5.5"/><text x="1020" y="905">over</text></g>
<g id="n-white"><circle cx="1297" cy="894" r="5.5"/><text x="1297" y="894">white</text></g>
<g id="n-explained"><circle cx="681" cy="920" r="5.5"/><text x="681" y="920">explained</text></g>
<g id="n-sweater"><circle cx="796" cy="914" r="5.5"/><text x="796" y="914">sweater</text></g>
<g id="n-straight"><circle cx="895" cy="922" r="5.5"/><text x="895" y="922">straight</text></g>
<g id="n-stakes"><circle cx="1180" cy="913" r="5.5"/><text x="1180" y="913">stakes</text></g>
<g id="n-baby"><circle cx="1217" cy="919" r="5.5"/><text x="1217" y="919">baby</text></g>
<g id="n-yeah"><circle cx="1271" cy="911" r="5.5"/><text x="1271" y="911">yeah</text></g>
<g id="n-gats"><circle cx="1314" cy="924" r="5.5"/><text x="1314" y="924">gats</text></g>
<g id="n-damn"><circle cx="823" cy="933" r="5.5"/><text x="823" y="933">damn</text></g>
<g id="n-gotta"><circle cx="929" cy="934" r="5.5"/><text x="929" y="934">gotta</text></g>
<g id="n-had"><circle cx="1003" cy="930" r="5.5"/><text x="1003" y="930">had</text></g>
<g id="n-mpv"><circle cx="1110" cy="935" r="5.5"/><text x="1110" y="935">mpv</text></g>
<g id="n-doin"><circle cx="1154" cy="929" r="5.5"/><text x="1154" y="929">doin</text></g>
<g id="n-such"><circle cx="1171" cy="933" r="5.5"/><text x="1171" y="933">such</text></g>
<g id="n-fly"><circle cx="1244" cy="944" r="5.5"/><text x="1244" y="944">fly</text></g>
<g id="n-stickin"><circle cx="1267" cy="938" r="5.5"/><text x="1267" y="938">stickin</text></g>
<g id="n-workin"><circle cx="701" cy="949" r="5.5"/><text x="701" y="949">workin</text></g>
<g id="n-joint"><circle cx="829" cy="949" r="5.5"/><text x="829" y="949">joint</text></g>
<g id="n-son"><circle cx="861" cy="947" r="5.5"/><text x="861" y="947">son</text></g>
<g id="n-like"><circle cx="940" cy="953" r="5.5"/><text x="940" y="953">like</text></g>
<g id="n-week"><circle cx="1040" cy="953" r="5.5"/><text x="1040" y="953">week</text></g>
<g id="n-gates"><circle cx="1094" cy="955" r="5.5"/><text x="1094" y="955">gates</text></g>
<g id="n-hits"><circle cx="1132" cy="950" r="5.5"/><text x="1132" y="950">hits</text></g>
<g id="n-destination"><circle cx="740" cy="960" r="5.5"/><text x="740" y="960">destination</text></g>
<g id="n-high"><circle cx="1063" cy="964" r="5.5"/><text x="1063" y="964">high</text></g>
<g id="n-drugs"><circle cx="1128" cy="967" r="5.5"/><text x="1128" y="967">drugs</text></g>
<g id="n-buck"><circle cx="1101" cy="973" r="5.5"/><text x="1101" y="973">buck</text></g>
<g id="n-let"><circle cx="894" cy="968" r="5.5"/><text x="894" y="968">let</text></g>
<g id="n-kids"><circle cx="964" cy="968" r="5.5"/><text x="964" y="968">kids</text></g>
<g id="n-take"><circle cx="866" cy="975" r="5.5"/><text x="866" y="975">take</text></g>
<g id="n-much"><circle cx="1075" cy="977" r="5.5"/><text x="1075" y="977">much</text></g>
<g id="n-stick"><circle cx="986" cy="978" r="5.5"/><text x="986" y="978">stick</text></g>
<g id="n-rocks"><circle cx="1062" cy="989" r="5.5"/><text x="1062" y="989">rocks</text></g>
<g id="n-start"><circle cx="945" cy="993" r="5.5"/><text x="945" y="993">start</text></g>
<g id="n-natural"><circle cx="917" cy="999" r="5.5"/><text x="917" y="999">natural</text></g>
<g id="n-secondhands"><circle cx="880" cy="1003" r="5.5"/><text x="880" y="1003">secondhands</text></g>
<g id="n-goin"><circle cx="780" cy="998" r="5.5"/><text x="780" y="998">goin</text></g>
<g id="n-may"><circle cx="726" cy="981" r="5.5"/><text x="726" y="981">may</text></g>
<g id="n-courts"><circle cx="1233" cy="971" r="5.5"/><text x="1233" y="971">courts</text></g>
<g id="n-ball"><circle cx="1206" cy="989" r="5.5"/><text x="1206" y="989">ball</text></g>
<g id="n-one"><circle cx="1117" cy="1007" r="5.5"/><text x="1117" y="1007">one</text></g>
<g id="n-boys"><circle cx="1176" cy="1007" r="5.5"/><text x="1176" y="1007">boys</text></g>
<g id="n-maintain"><circle cx="755" cy="1008" r="5.5"/><text x="755" y="1008">maintain</text></g>
<g id="n-bounced"><circle cx="924" cy="1024" r="5.5"/><text x="924" y="1024">bounced</text></g>
<g id="n-leather"><circle cx="992" cy="1034" r="5.5"/><text x="992" y="1034">leather</text></g>
<g id="n-tough"><circle cx="1041" cy="1034" r="5.5"/><text x="1041" y="1034">tough</text></g>
<g id="n-upstate"><circle cx="823" cy="1030" r="5.5"/><text x="823" y="1030">upstate</text></g>
<g id="n-help"><circle cx="792" cy="1035" r="5.5"/><text x="792" y="1035">help</text></g>
<g id="n-pacin"><circle cx="863" cy="1053" r="5.5"/><text x="863" y="1053">pacin</text></g>
<g id="n-makin"><circle cx="1119" cy="1056" r="5.5"/><text x="1119" y="1056">makin</text></g>
<g id="n-escapes"><circle cx="1071" cy="1068" r="5.5"/><text x="1071" y="1068">escapes</text></g>
</g>
</g>
</svg>
